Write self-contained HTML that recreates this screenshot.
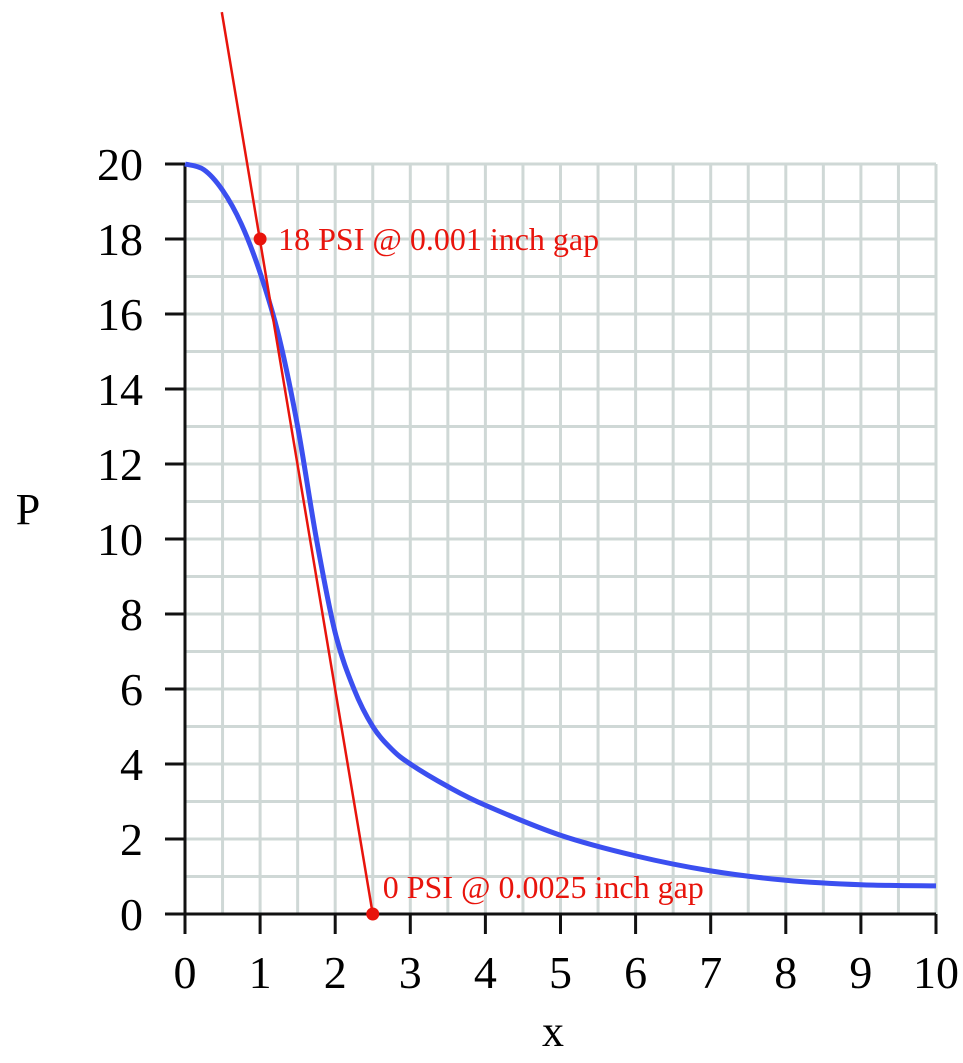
<!DOCTYPE html>
<html><head><meta charset="utf-8"><style>body{margin:0;background:#fff}svg{display:block}text{font-family:"Liberation Serif",serif}</style></head>
<body>
<svg id="c" width="963" height="1063"></svg>
<script>
const xTicks=[0,1,2,3,4,5,6,7,8,9,10];
const yTicks=[0,2,4,6,8,10,12,14,16,18,20];
const curveX=[0,0.25,0.5,0.75,1,1.25,1.5,1.75,2,2.25,2.5,2.75,3,3.5,4,5,6,7,8,9,10];
const curveY=[20,19.85,19.3,18.4,17.1,15.4,13,10,7.5,6,5,4.4,4,3.4,2.9,2.1,1.55,1.15,0.9,0.78,0.75];
const lineX=[0.49,2.5];
const lineY=[24.05,0];
const pointX=[1,2.5];
const pointY=[18,0];
const pointLabels=["18 PSI @ 0.001 inch gap","0 PSI @ 0.0025 inch gap"];
const ns="http://www.w3.org/2000/svg",s=document.getElementById('c');
const X=v=>185+v*75.1,Y=v=>914-v*37.5;
function el(t,a,p){const e=document.createElementNS(ns,t);for(const k in a)e.setAttribute(k,a[k]);(p||s).appendChild(e);return e;}
for(let i=1;i<=20;i++){const e=el('line',{x1:X(i*0.5),x2:X(i*0.5),y1:Y(0),y2:Y(20),stroke:'#cfd8d6','stroke-width':3});
}
for(let i=1;i<=20;i++){const e=el('line',{x1:X(0),x2:X(10),y1:Y(i),y2:Y(i),stroke:'#cfd8d6','stroke-width':3});
}
let a=el('line',{x1:X(0),x2:X(0),y1:Y(0)+20,y2:Y(20),stroke:'#111','stroke-width':3});
a=el('line',{x1:X(0)-20,x2:X(10),y1:Y(0),y2:Y(0),stroke:'#111','stroke-width':3});
xTicks.forEach(v=>{let t=el('line',{x1:X(v),x2:X(v),y1:Y(0),y2:Y(0)+20,stroke:'#111','stroke-width':3});
t=el('text',{x:X(v),y:988,'text-anchor':'middle','font-size':46});t.textContent=v;});
yTicks.forEach(v=>{let t=el('line',{x1:X(0)-20,x2:X(0),y1:Y(v),y2:Y(v),stroke:'#111','stroke-width':3});
t=el('text',{x:143,y:Y(v)+16,'text-anchor':'end','font-size':46});t.textContent=v;});
let t=el('text',{x:28,y:524,'text-anchor':'middle','font-size':44});t.textContent='P';
t=el('text',{x:553,y:1046,'text-anchor':'middle','font-size':44});t.textContent='x';
let d=curveX.map((v,i)=>[X(v),Y(curveY[i])]);
let p='M'+d[0][0]+','+d[0][1];
for(let i=0;i<d.length-1;i++){const p0=d[Math.max(0,i-1)],p1=d[i],p2=d[i+1],p3=d[Math.min(d.length-1,i+2)];
p+=' C'+(p1[0]+(p2[0]-p0[0])/6)+','+(p1[1]+(p2[1]-p0[1])/6)+' '+(p2[0]-(p3[0]-p1[0])/6)+','+(p2[1]-(p3[1]-p1[1])/6)+' '+p2[0]+','+p2[1];}
a=el('path',{d:p,fill:'none',stroke:'#3b4ff0','stroke-width':5});
a=el('line',{x1:X(lineX[0]),y1:Y(lineY[0]),x2:X(lineX[1]),y2:Y(lineY[1]),stroke:'#e8140c','stroke-width':2.5});
pointX.forEach((v,i)=>{let c=el('circle',{cx:X(v),cy:Y(pointY[i]),r:6.5,fill:'#e8140c'});
let l=el('text',{x:X(v)+(i?10:18),y:Y(pointY[i])+(i?-16:11),'font-size':32,fill:'#e8140c'});l.textContent=pointLabels[i];});
</script>
</body></html>
